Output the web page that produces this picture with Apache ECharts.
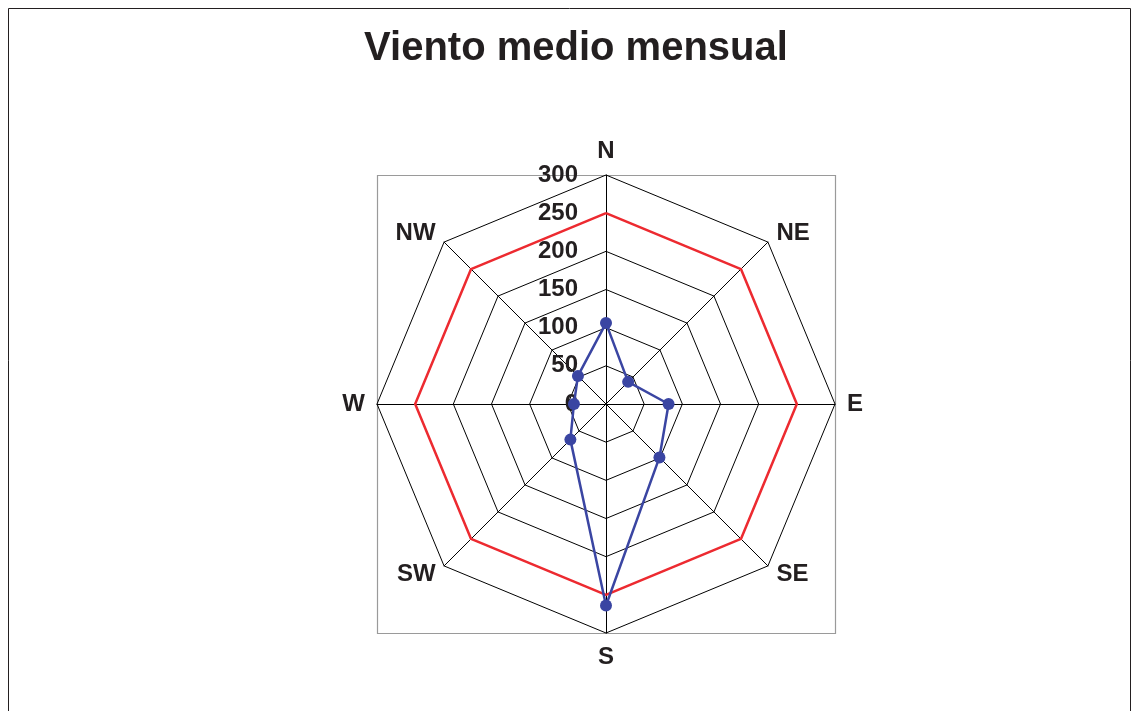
<!DOCTYPE html>
<html>
<head>
<meta charset="utf-8">
<script src="https://cdn.jsdelivr.net/npm/echarts@6/dist/echarts.min.js"></script>
<style>
  html, body { margin: 0; padding: 0; background: #fff; }
  #chart { width: 1134px; height: 711px; }
</style>
</head>
<body>
<div id="chart"></div>
<script>
// direcciones en orden de la brújula
const directions = ['N', 'NE', 'E', 'SE', 'S', 'SW', 'W', 'NW'];
const vientoMedio = [106, 41, 82, 99, 264, 66, 42, 52];
const referencia = [250, 250, 250, 250, 250, 250, 250, 250];
const maxValue = 300;
const ringStep = 50;

// echarts dibuja los indicadores en sentido antihorario
const order = [0, 7, 6, 5, 4, 3, 2, 1];

const cx = 606, cy = 404, r = 229;

const labelFont = {fontFamily: 'Liberation Sans, Arial', fontWeight: 'bold', fontSize: 24, color: '#231f20'};

let myChart = echarts.init(document.getElementById('chart'));
myChart.setOption({
  backgroundColor: '#ffffff',
  animation: false,
  title: {
    text: 'Viento medio mensual',
    left: 571,
    top: 24,
    textAlign: 'center',
    textStyle: {fontFamily: 'Liberation Sans, Arial', fontWeight: 'bold', fontSize: 40, color: '#231f20'}
  },
  graphic: [
    {
      type: 'rect',
      shape: {x: 8.5, y: 8.5, width: 1122, height: 730},
      style: {fill: 'none', stroke: '#231f20', lineWidth: 1}
    },
    {
      type: 'rect',
      shape: {x: cx - r + 0.5, y: cy - r + 0.5, width: 2 * r, height: 2 * r},
      style: {fill: 'none', stroke: '#9a9a9a', lineWidth: 1.2},
      z: -1
    }
  ],
  radar: {
    center: [cx, cy],
    radius: r,
    startAngle: 90,
    splitNumber: maxValue / ringStep,
    shape: 'polygon',
    nameGap: 12,
    axisName: labelFont,
    axisLine: {lineStyle: {color: '#000', width: 1}},
    splitLine: {lineStyle: {color: '#000', width: 1}},
    splitArea: {show: false},
    axisTick: {show: false},
    axisLabel: {show: false},
    indicator: order.map((i, k) => ({
      name: directions[i],
      min: 0,
      max: maxValue,
      axisLabel: k === 0 ? Object.assign({show: true, margin: 28, align: 'right', verticalAlign: 'middle'}, labelFont) : {show: false}
    }))
  },
  series: [
    {
      type: 'radar',
      z: 3,
      symbol: 'none',
      lineStyle: {color: '#ed2a30', width: 2.5},
      data: [{value: order.map(i => referencia[i]), name: 'referencia'}]
    },
    {
      type: 'radar',
      z: 4,
      symbol: 'circle',
      symbolSize: 12,
      itemStyle: {color: '#3a45a2'},
      lineStyle: {color: '#3a45a2', width: 2.5},
      data: [{value: order.map(i => vientoMedio[i]), name: 'viento'}]
    }
  ]
});
</script>
</body>
</html>
